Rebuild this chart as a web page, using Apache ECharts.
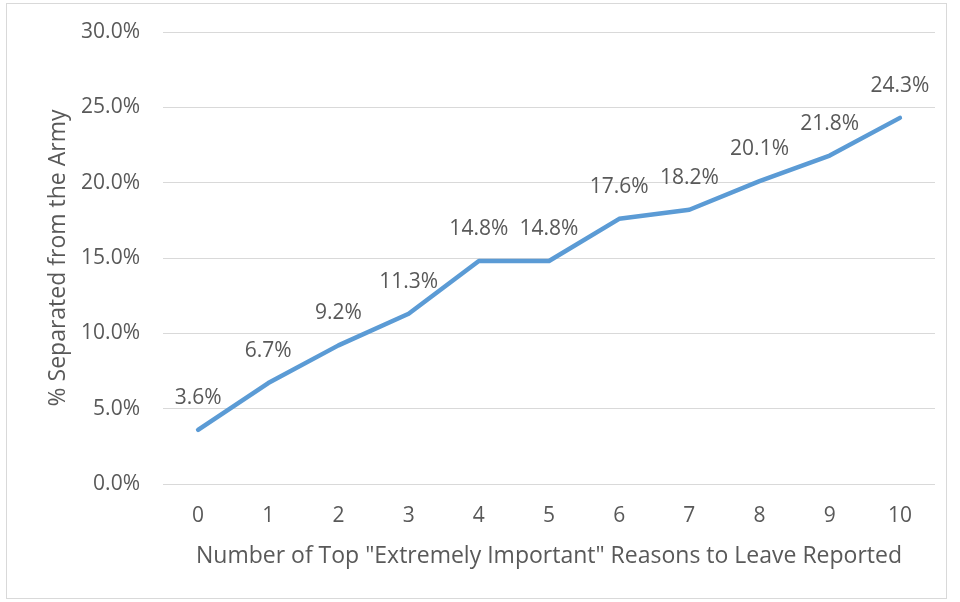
<!DOCTYPE html>
<html>
<head>
<meta charset="utf-8">
<script src="https://cdn.jsdelivr.net/npm/echarts@6/dist/echarts.min.js"></script>
<style>
  html, body { margin: 0; padding: 0; background: #fff; }
  #frame { position: absolute; left: 6px; top: 3px; width: 941px; height: 596px; border: 1px solid #d9d9d9; box-sizing: border-box; }
  #chart { width: 960px; height: 602px; }
</style>
</head>
<body>
<div id="frame"></div>
<div id="chart"></div>
<script>
// Number of top "extremely important" reasons reported
const categories = ['0', '1', '2', '3', '4', '5', '6', '7', '8', '9', '10'];
// Share separated from the Army (%)
const separatedPct = [3.6, 6.7, 9.2, 11.3, 14.8, 14.8, 17.6, 18.2, 20.1, 21.8, 24.3];

const FONT = '"Open Sans", "Liberation Sans", sans-serif';
const TEXT = '#595959';
const BLUE = '#5b9bd5';

const chart = echarts.init(document.getElementById('chart'), null, { renderer: 'canvas' });
chart.setOption({
  animation: false,
  grid: { left: 163, right: 25, top: 32, bottom: 118, containLabel: false },
  xAxis: {
    type: 'category',
    data: categories,
    boundaryGap: true,
    axisLine: { show: false },
    axisTick: { show: false },
    axisLabel: { color: TEXT, fontFamily: FONT, fontSize: 21, margin: 22 },
    name: 'Number of Top "Extremely Important" Reasons to Leave Reported',
    nameLocation: 'middle',
    nameGap: 61,
    nameTextStyle: { color: TEXT, fontFamily: FONT, fontSize: 23 }
  },
  yAxis: {
    type: 'value',
    min: 0,
    max: 30,
    interval: 5,
    axisLine: { show: false },
    axisTick: { show: false },
    splitLine: { lineStyle: { color: '#d9d9d9', width: 1 } },
    axisLabel: {
      color: TEXT, fontFamily: FONT, fontSize: 21, margin: 23,
      formatter: v => v.toFixed(1) + '%'
    },
    name: '% Separated from the Army',
    nameLocation: 'middle',
    nameGap: 90,
    nameRotate: 90,
    nameTextStyle: { color: TEXT, fontFamily: FONT, fontSize: 23 }
  },
  series: [{
    type: 'line',
    data: separatedPct,
    symbol: 'circle',
    symbolSize: 1,
    showSymbol: true,
    itemStyle: { color: BLUE },
    lineStyle: { color: BLUE, width: 4.5, cap: 'round', join: 'round' },
    label: {
      show: true,
      position: 'top',
      distance: 21,
      color: TEXT,
      fontFamily: FONT,
      fontSize: 21,
      formatter: p => p.value.toFixed(1) + '%'
    },
    labelLayout: { hideOverlap: false }
  }]
});
</script>
</body>
</html>
